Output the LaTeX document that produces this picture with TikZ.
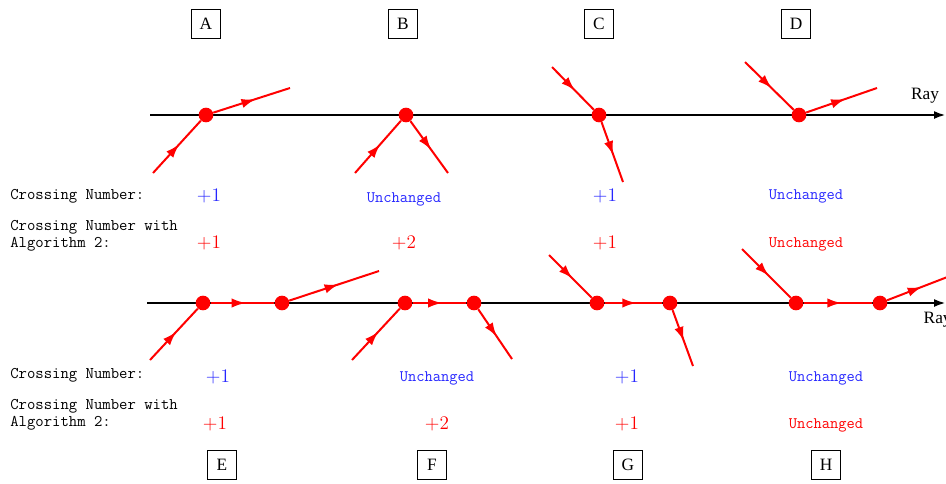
\documentclass[tikz,border=0pt]{standalone}
\usepackage{fontspec}
\setmainfont{Liberation Serif}
\usetikzlibrary{decorations.markings,arrows.meta}
\begin{document}
\begin{tikzpicture}[x=0.75pt,y=-0.75pt,
  dot/.style={circle,fill=red,inner sep=0pt,minimum size=11pt},
  seg/.style={red,line width=1.5pt,postaction={decorate},
    decoration={markings,mark=at position 0.55 with {\arrow{Latex[length=10.5pt,width=7pt]}}}},
  ray/.style={line width=2.1pt,-{Latex[length=9pt,width=6pt]}},
  lbl/.style={draw,line width=0.5pt,font=\fontsize{13}{15}\selectfont,minimum width=22pt,minimum height=22pt,inner sep=0pt},
  tt/.style={font=\fontsize{12.2}{12.75}\selectfont\ttfamily,anchor=west,align=left,inner sep=0pt},
  blu/.style={text=blue!85!white,inner sep=0pt},
  rd/.style={text=red,inner sep=0pt},
  val/.style={font=\fontsize{13.5}{15}\selectfont},
  vtt/.style={font=\fontsize{12}{13}\selectfont\ttfamily},
]
\useasboundingbox (0,0) rectangle (946,483);

% ---------- top ray ----------
\coordinate (r1s) at (150,115);
\coordinate (r1e) at (946,115);
\draw[ray] (r1s) -- (r1e);
\node[font=\fontsize{13}{15}\selectfont] (ray1) at (925,96) {Ray};

\node[dot] (a) at (206,115) {};
\node[dot] (b) at (406,115) {};
\node[dot] (c) at (599,115) {};
\node[dot] (d) at (799,115) {};
\coordinate (ai) at (153,173); \coordinate (ao) at (290,88);
\coordinate (bi) at (355,173); \coordinate (bo) at (448,173);
\coordinate (ci) at (552,67);  \coordinate (co) at (623,182);
\coordinate (di) at (745,62);  \coordinate (do) at (877,88);
\draw[seg] (ai) -- (a); \draw[seg] (a) -- (ao);
\draw[seg] (bi) -- (b); \draw[seg] (b) -- (bo);
\draw[seg] (ci) -- (c); \draw[seg] (c) -- (co);
\draw[seg] (di) -- (d); \draw[seg] (d) -- (do);

\node[lbl] (lA) at (206,24) {A};
\node[lbl] (lB) at (403,24) {B};
\node[lbl] (lC) at (599,24) {C};
\node[lbl] (lD) at (796,24) {D};

\node[tt] (t1) at (10,196) {Crossing Number:};
\node[tt] (t2) at (10,235.5) {Crossing Number with\\Algorithm 2:};

\node[blu,val] (v1) at (209,196) {$+1$};
\node[blu,vtt] (v2) at (404,199) {Unchanged};
\node[blu,val] (v3) at (605,196) {$+1$};
\node[blu,vtt] (v4) at (806,196) {Unchanged};
\node[rd,val] (w1) at (209,243) {$+1$};
\node[rd,val] (w2) at (404,243) {$+2$};
\node[rd,val] (w3) at (605,243) {$+1$};
\node[rd,vtt] (w4) at (806,244) {Unchanged};

% ---------- bottom ray ----------
\coordinate (r2s) at (147,303);
\coordinate (r2e) at (946,303);
\draw[ray] (r2s) -- (r2e);
\node[font=\fontsize{13}{15}\selectfont,anchor=west] (ray2) at (919,320) {Ray};

\node[dot] (e1) at (203,303) {};
\node[dot] (e2) at (282,303) {};
\node[dot] (f1) at (405,303) {};
\node[dot] (f2) at (474,303) {};
\node[dot] (g1) at (597,303) {};
\node[dot] (g2) at (670,303) {};
\node[dot] (h1) at (796,303) {};
\node[dot] (h2) at (880,303) {};
\coordinate (ei) at (150,360); \coordinate (eo) at (379,271);
\coordinate (fi) at (352,360); \coordinate (fo) at (512,359);
\coordinate (gi) at (549,255); \coordinate (go) at (693,366);
\coordinate (hi) at (742,249); \coordinate (ho) at (950,276);
\draw[seg] (ei) -- (e1); \draw[seg] (e1) -- (e2); \draw[seg] (e2) -- (eo);
\draw[seg] (fi) -- (f1); \draw[seg] (f1) -- (f2); \draw[seg] (f2) -- (fo);
\draw[seg] (gi) -- (g1); \draw[seg] (g1) -- (g2); \draw[seg] (g2) -- (go);
\draw[seg] (hi) -- (h1); \draw[seg] (h1) -- (h2); \draw[seg] (h2) -- (ho);

\node[tt] (t3) at (10,375) {Crossing Number:};
\node[tt] (t4) at (10,414.5) {Crossing Number with\\Algorithm 2:};

\node[blu,val] (x1) at (218,377) {$+1$};
\node[blu,vtt] (x2) at (437,378) {Unchanged};
\node[blu,val] (x3) at (627,377) {$+1$};
\node[blu,vtt] (x4) at (826,378) {Unchanged};
\node[rd,val] (y1) at (215,424) {$+1$};
\node[rd,val] (y2) at (437,424) {$+2$};
\node[rd,val] (y3) at (627,424) {$+1$};
\node[rd,vtt] (y4) at (826,425) {Unchanged};

\node[lbl] (lE) at (222,465) {E};
\node[lbl] (lF) at (432,465) {F};
\node[lbl] (lG) at (628,465) {G};
\node[lbl] (lH) at (826,465) {H};
\end{tikzpicture}
\end{document}
